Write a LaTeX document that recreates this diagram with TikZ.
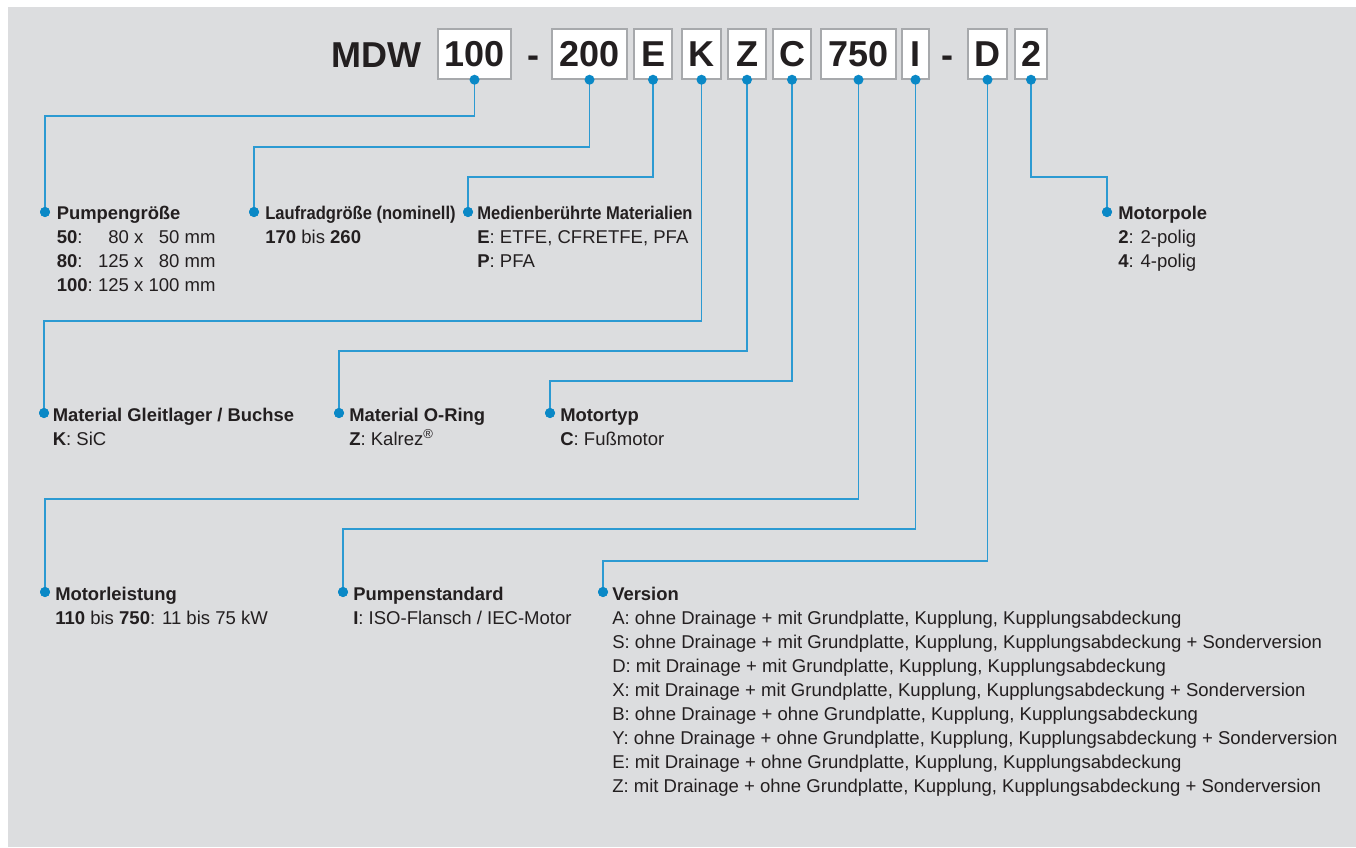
\documentclass[tikz,border=0pt]{standalone}
\usepackage{fontspec}
\setmainfont{Liberation Sans}
\usepackage{graphicx}
\definecolor{bggray}{HTML}{DCDDDF}
\definecolor{boxgray}{HTML}{A7A9AC}
\definecolor{txt}{HTML}{231F20}
\definecolor{dotblue}{HTML}{0A88C6}
\definecolor{lineblue}{HTML}{2C9AD2}
\begin{document}
\begin{tikzpicture}[x=0.75pt,y=-0.75pt,
  codebox/.style={draw=boxgray, line width=1.1pt, fill=white, minimum height=37.5pt, inner sep=0pt,
    font=\fontsize{27}{30}\selectfont\bfseries, text=txt},
  cbox/.style={codebox, minimum width=#1*0.75pt},
  bigtxt/.style={anchor=base, inner sep=0pt, font=\fontsize{27}{30}\selectfont\bfseries, text=txt},
  lbl/.style={anchor=base west, inner sep=0pt, font=\fontsize{13.9}{16}\selectfont, text=txt},
  hdr/.style={lbl, font=\fontsize{13.8}{16}\selectfont\bfseries},
  bdot/.style={circle, fill=dotblue, inner sep=0pt, minimum size=7.5pt},
  conn/.style={draw=lineblue, line width=0.9pt}]
\useasboundingbox (0,0) rectangle (1356,847);
\fill[white] (0,0) rectangle (1356,847);
\fill[bggray] (8,7) rectangle (1356,847);

% code line
\node[bigtxt] (mdw) at (376,67) {MDW};
\node[cbox=73] (b100) at (474.5,54) {100};
\node[bigtxt] (dash1) at (533,67) {-};
\node[cbox=75] (b200) at (589.5,54) {200};
\node[cbox=38] (bE) at (653,54) {E};
\node[cbox=39] (bK) at (701.5,54) {K};
\node[cbox=38] (bZ) at (747,54) {Z};
\node[cbox=38] (bC) at (792,54) {C};
\node[cbox=75] (b750) at (858.5,54) {750};
\node[cbox=27] (bI) at (915.5,54) {I};
\node[bigtxt] (dash2) at (947,67) {-};
\node[cbox=39] (bD) at (987.5,54) {D};
\node[cbox=32] (b2) at (1031,54) {2};

% label dots
\node[bdot] (dPG) at (45,212) {};
\node[bdot] (dLR) at (254,212) {};
\node[bdot] (dMM) at (468,212) {};
\node[bdot] (dMP) at (1107,212) {};
\node[bdot] (dGL) at (44,413) {};
\node[bdot] (dOR) at (339,413) {};
\node[bdot] (dMT) at (550,413) {};
\node[bdot] (dML) at (45,592) {};
\node[bdot] (dPS) at (343,592) {};
\node[bdot] (dVE) at (603,592) {};

% connectors
\draw[conn] (b100.south) -- (b100.south |- 0,116) -| (dPG);
\draw[conn] (b200.south) -- (b200.south |- 0,147) -| (dLR);
\draw[conn] (bE.south) -- (bE.south |- 0,177) -| (dMM);
\draw[conn] (b2.south) -- (b2.south |- 0,177) -| (dMP);
\draw[conn] (bK.south) -- (bK.south |- 0,321) -| (dGL);
\draw[conn] (bZ.south) -- (bZ.south |- 0,351) -| (dOR);
\draw[conn] (bC.south) -- (bC.south |- 0,381) -| (dMT);
\draw[conn] (b750.south) -- (b750.south |- 0,499) -| (dML);
\draw[conn] (bI.south) -- (bI.south |- 0,529) -| (dPS);
\draw[conn] (bD.south) -- (bD.south |- 0,561) -| (dVE);

% dots on boxes
\foreach \b in {b100,b200,bE,bK,bZ,bC,b750,bI,bD,b2}
  \node[bdot] at (\b.south) {};
\foreach \d in {dPG,dLR,dMM,dMP,dGL,dOR,dMT,dML,dPS,dVE}
  \node[bdot] at (\d) {};

% labels row 1
\node[hdr] (tPG) at (56.5,219) {Pumpengröße};
\node[lbl] (tPG1) at (56.5,243) {\makebox[31pt][l]{\textbf{50}:}\phantom{1}80 x \phantom{1}50 mm};
\node[lbl] (tPG2) at (56.5,267) {\makebox[31pt][l]{\textbf{80}:}125 x \phantom{1}80 mm};
\node[lbl] (tPG3) at (56.5,291) {\makebox[31pt][l]{\textbf{100}:}125 x 100 mm};

\node[hdr] (tLR) at (265,219) {\scalebox{0.9}[1]{Laufradgröße (nominell)}};
\node[lbl] (tLR1) at (265,243) {\textbf{170} bis \textbf{260}};

\node[hdr] (tMM) at (477,219) {\scalebox{0.9}[1]{Medienberührte Materialien}};
\node[lbl] (tMM1) at (477,243) {\textbf{E}: ETFE, CFRETFE, PFA};
\node[lbl] (tMM2) at (477,267) {\textbf{P}: PFA};

\node[hdr] (tMP) at (1118,219) {Motorpole};
\node[lbl] (tMP1) at (1118,243) {\textbf{2}: 2-polig};
\node[lbl] (tMP2) at (1118,267) {\textbf{4}: 4-polig};

% labels row 2
\node[hdr] (tGL) at (52.5,421) {Material Gleitlager / Buchse};
\node[lbl] (tGL1) at (52.5,445) {\textbf{K}: SiC};
\node[hdr] (tOR) at (349,421) {Material O-Ring};
\node[lbl] (tOR1) at (349,445) {\textbf{Z}: Kalrez\textsuperscript{®}};
\node[hdr] (tMT) at (560,421) {Motortyp};
\node[lbl] (tMT1) at (560,445) {\textbf{C}: Fußmotor};

% labels row 3
\node[hdr] (tML) at (55,600) {Motorleistung};
\node[lbl] (tML1) at (55,624) {\textbf{110} bis \textbf{750}: 11 bis 75 kW};
\node[hdr] (tPS) at (353,600) {Pumpenstandard};
\node[lbl] (tPS1) at (353,624) {\textbf{I}: ISO-Flansch / IEC-Motor};
\node[hdr] (tVE) at (612,600) {Version};
\node[lbl] (tV1) at (612,624) {A: ohne Drainage + mit Grundplatte, Kupplung, Kupplungsabdeckung};
\node[lbl] (tV2) at (612,648) {S: ohne Drainage + mit Grundplatte, Kupplung, Kupplungsabdeckung + Sonderversion};
\node[lbl] (tV3) at (612,672) {D: mit Drainage + mit Grundplatte, Kupplung, Kupplungsabdeckung};
\node[lbl] (tV4) at (612,696) {X: mit Drainage + mit Grundplatte, Kupplung, Kupplungsabdeckung + Sonderversion};
\node[lbl] (tV5) at (612,720) {B: ohne Drainage + ohne Grundplatte, Kupplung, Kupplungsabdeckung};
\node[lbl] (tV6) at (612,744) {Y: ohne Drainage + ohne Grundplatte, Kupplung, Kupplungsabdeckung + Sonderversion};
\node[lbl] (tV7) at (612,768) {E: mit Drainage + ohne Grundplatte, Kupplung, Kupplungsabdeckung};
\node[lbl] (tV8) at (612,792) {Z: mit Drainage + ohne Grundplatte, Kupplung, Kupplungsabdeckung + Sonderversion};
\end{tikzpicture}
\end{document}
